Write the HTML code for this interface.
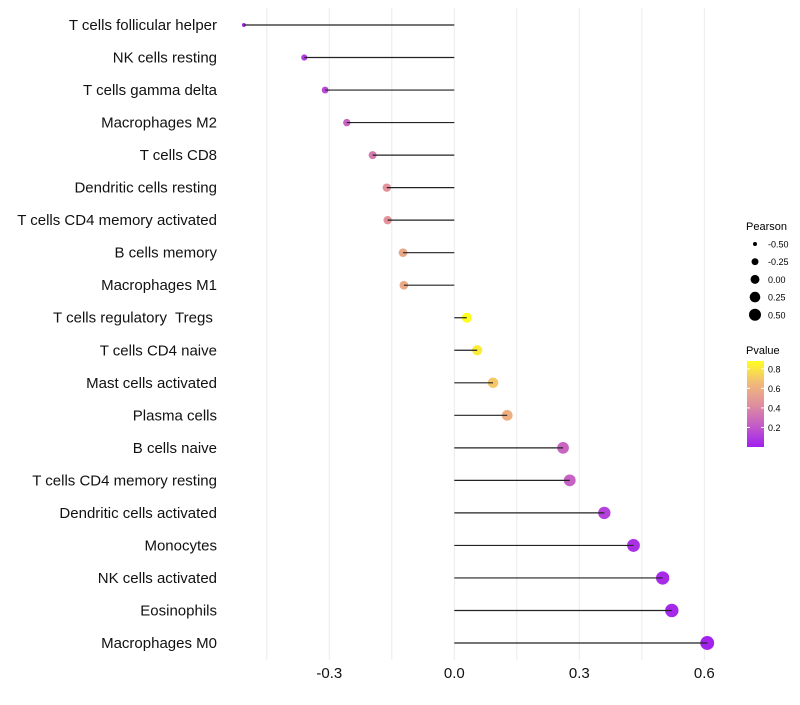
<!DOCTYPE html>
<html><head><meta charset="utf-8"><style>
body{margin:0;background:#fff;font-family:"Liberation Sans",sans-serif}
text{white-space:pre}
</style></head><body>
<svg id="chart" width="800" height="700" xmlns="http://www.w3.org/2000/svg" font-family="Liberation Sans, sans-serif">
<defs><linearGradient id="pg" x1="0" y1="1" x2="0" y2="0">
<stop offset="0" stop-color="#a020f0"/><stop offset="0.25" stop-color="#c45cc8"/><stop offset="0.5" stop-color="#e0909c"/><stop offset="0.75" stop-color="#f2bb78"/><stop offset="1" stop-color="#ffff20"/></linearGradient></defs>
<g id="grid"></g><g id="marks"></g><g id="labels"></g><g id="xticks"></g>
<g>
<text x="746" y="230" font-size="11">Pearson</text>
<g id="sizeLegend"></g>
</g>
<g>
<text x="746" y="354" font-size="11">Pvalue</text>
<rect x="747" y="361" width="17" height="86" fill="url(#pg)"/>
<g id="colorTicks"></g>
</g>
</svg>
<script>
const categories=["T cells follicular helper","NK cells resting","T cells gamma delta","Macrophages M2","T cells CD8","Dendritic cells resting","T cells CD4 memory activated","B cells memory","Macrophages M1","T cells regulatory  Tregs ","T cells CD4 naive","Mast cells activated","Plasma cells","B cells naive","T cells CD4 memory resting","Dendritic cells activated","Monocytes","NK cells activated","Eosinophils","Macrophages M0"];
const pearson=[-0.505,-0.36,-0.31,-0.258,-0.196,-0.162,-0.16,-0.123,-0.121,0.03,0.055,0.093,0.127,0.261,0.277,0.36,0.43,0.5,0.522,0.607];
const pvalue=[0.03,0.1,0.15,0.25,0.35,0.45,0.45,0.56,0.57,0.9,0.82,0.7,0.6,0.26,0.24,0.12,0.06,0.04,0.03,0.01];
const xTicks=[-0.3,0,0.3,0.6];
const xTickLabels=["-0.3","0.0","0.3","0.6"];
const sizeBreaks=[-0.5,-0.25,0,0.25,0.5];
const colorBreaks=[0.2,0.4,0.6,0.8];
const NS="http://www.w3.org/2000/svg";
const X=v=>454.3+v*416.7;
const Y=i=>25+i*(643-25)/19;
const R=v=>Math.sqrt(Math.max(3,24+40*v));
const RL=v=>Math.sqrt(Math.max(2,20+32*v));
const stops=[[0,[160,32,240]],[0.25,[196,92,200]],[0.5,[224,144,156]],[0.75,[242,187,120]],[1,[255,255,32]]];
function col(p){let t=Math.min(1,Math.max(0,p/0.88));for(let k=1;k<stops.length;k++){if(t<=stops[k][0]){const a=stops[k-1],b=stops[k];const f=(t-a[0])/(b[0]-a[0]);const c=a[1].map((v,j)=>Math.round(v+(b[1][j]-v)*f));return `rgb(${c})`;}}return "rgb(255,255,32)";}
function el(tag,attrs,parent){const e=document.createElementNS(NS,tag);for(const k in attrs)e.setAttribute(k,attrs[k]);parent.appendChild(e);return e;}
const grid=document.getElementById('grid'),marks=document.getElementById('marks'),labels=document.getElementById('labels'),xt=document.getElementById('xticks');
for(let g=-0.45;g<=0.61;g+=0.15){const l=el('line',{x1:X(g),x2:X(g),y1:8,y2:660,stroke:'#ebebeb','stroke-width':1},grid);

}
categories.forEach((c,i)=>{
const y=Y(i);
const pt=el('circle',{cx:X(pearson[i]),cy:y,r:R(pearson[i]),fill:col(pvalue[i])},marks);


const sg=el('line',{x1:X(0),x2:X(pearson[i]),y1:y,y2:y,stroke:'#222','stroke-width':1.2},marks);


const t=el('text',{x:217,y:y+5,'text-anchor':'end','font-size':15,fill:'#111'},labels);
t.textContent=c;


});
xTicks.forEach((v,i)=>{const t=el('text',{x:X(v),y:678,'text-anchor':'middle','font-size':15,fill:'#111'},xt);t.textContent=xTickLabels[i];

});
const sl=document.getElementById('sizeLegend');
sizeBreaks.forEach((v,i)=>{const y=244+i*17.7;
const c=el('circle',{cx:755,cy:y,r:RL(v)},sl);


const t=el('text',{x:768,y:y+3.5,'font-size':9},sl);t.textContent=v.toFixed(2);

});
const ct=document.getElementById('colorTicks');
colorBreaks.forEach(v=>{const y=447-v/0.88*86;
el('line',{x1:747,x2:750,y1:y,y2:y,stroke:'#fff'},ct);el('line',{x1:761,x2:764,y1:y,y2:y,stroke:'#fff'},ct);
const t=el('text',{x:768,y:y+3.5,'font-size':9},ct);t.textContent=v.toFixed(1);

});
</script>
</body></html>
